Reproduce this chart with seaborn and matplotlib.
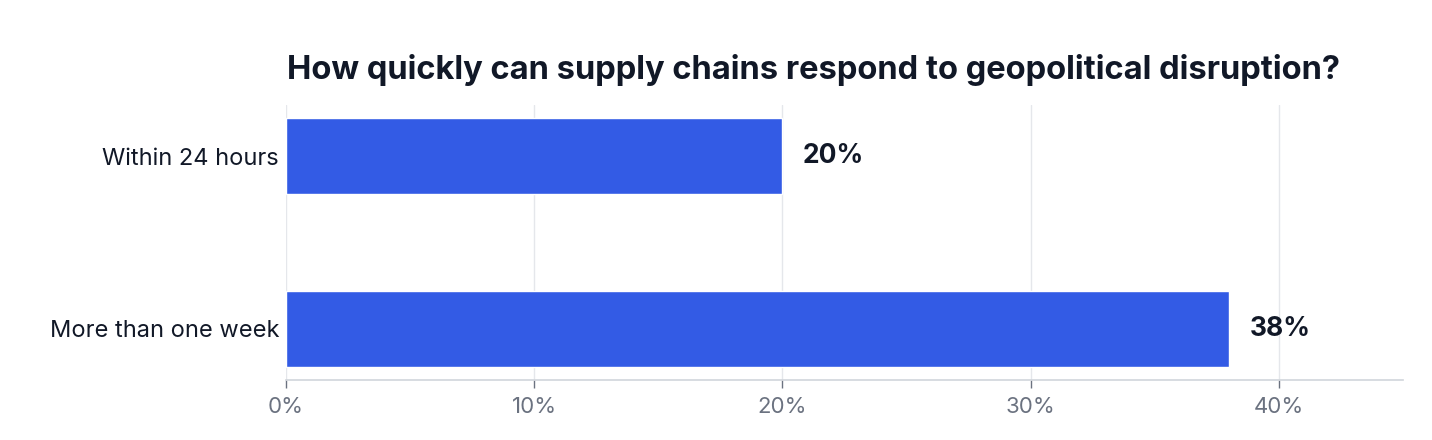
import matplotlib
matplotlib.use("Agg")
import matplotlib.pyplot as plt
import seaborn as sns
import pandas as pd
from matplotlib.ticker import FuncFormatter

categories = ["Within 24 hours", "More than one week"]
values = [20, 38]
title = "How quickly can supply chains respond to geopolitical disruption?"

sns.set_theme(style="white")
plt.rcParams['font.family'] = ['Inter', 'DejaVu Sans']

df = pd.DataFrame({"category": categories, "value": values})

fig = plt.figure(figsize=(14.32, 4.4), dpi=100)
ax = fig.add_axes([0.1997, 0.1364, 0.7801, 0.625])

sns.barplot(data=df, y="category", x="value", orient="h", color="#335BE5",
            saturation=1, width=0.44, ax=ax, zorder=3)

ax.set_xlim(0, 45)
ax.set_ylim(1.295, -0.295)
ax.set_xticks([0, 10, 20, 30, 40])
ax.xaxis.set_major_formatter(FuncFormatter(lambda v, p: f"{int(v)}%"))
ax.grid(axis="x", color="#e5e7eb", linewidth=1, zorder=0)
ax.set_axisbelow(True)
ax.set_xlabel("")
ax.set_ylabel("")
for s in ["top", "right", "left"]:
    ax.spines[s].set_visible(False)
ax.spines["bottom"].set_color("#d1d5db")
ax.spines["bottom"].set_linewidth(1.2)
ax.tick_params(axis="x", length=6, width=1, color="#6b7280", labelsize=16,
               labelcolor="#6b7280", pad=6, bottom=True)
ax.tick_params(axis="y", length=0, labelsize=17, labelcolor="#111827", pad=5)

for i, v in enumerate(values):
    ax.annotate(f"{v}%", xy=(v, i), xytext=(20, 0), textcoords="offset pixels",
                va="center", ha="left", fontsize=19, fontweight="bold", color="#111827")

fig.text(287 / 1432, 1 - 70 / 440, title, ha="left", va="center",
         fontsize=23.5, fontweight="bold", color="#111827")

fig.savefig("out.png", dpi=100, facecolor="white")
